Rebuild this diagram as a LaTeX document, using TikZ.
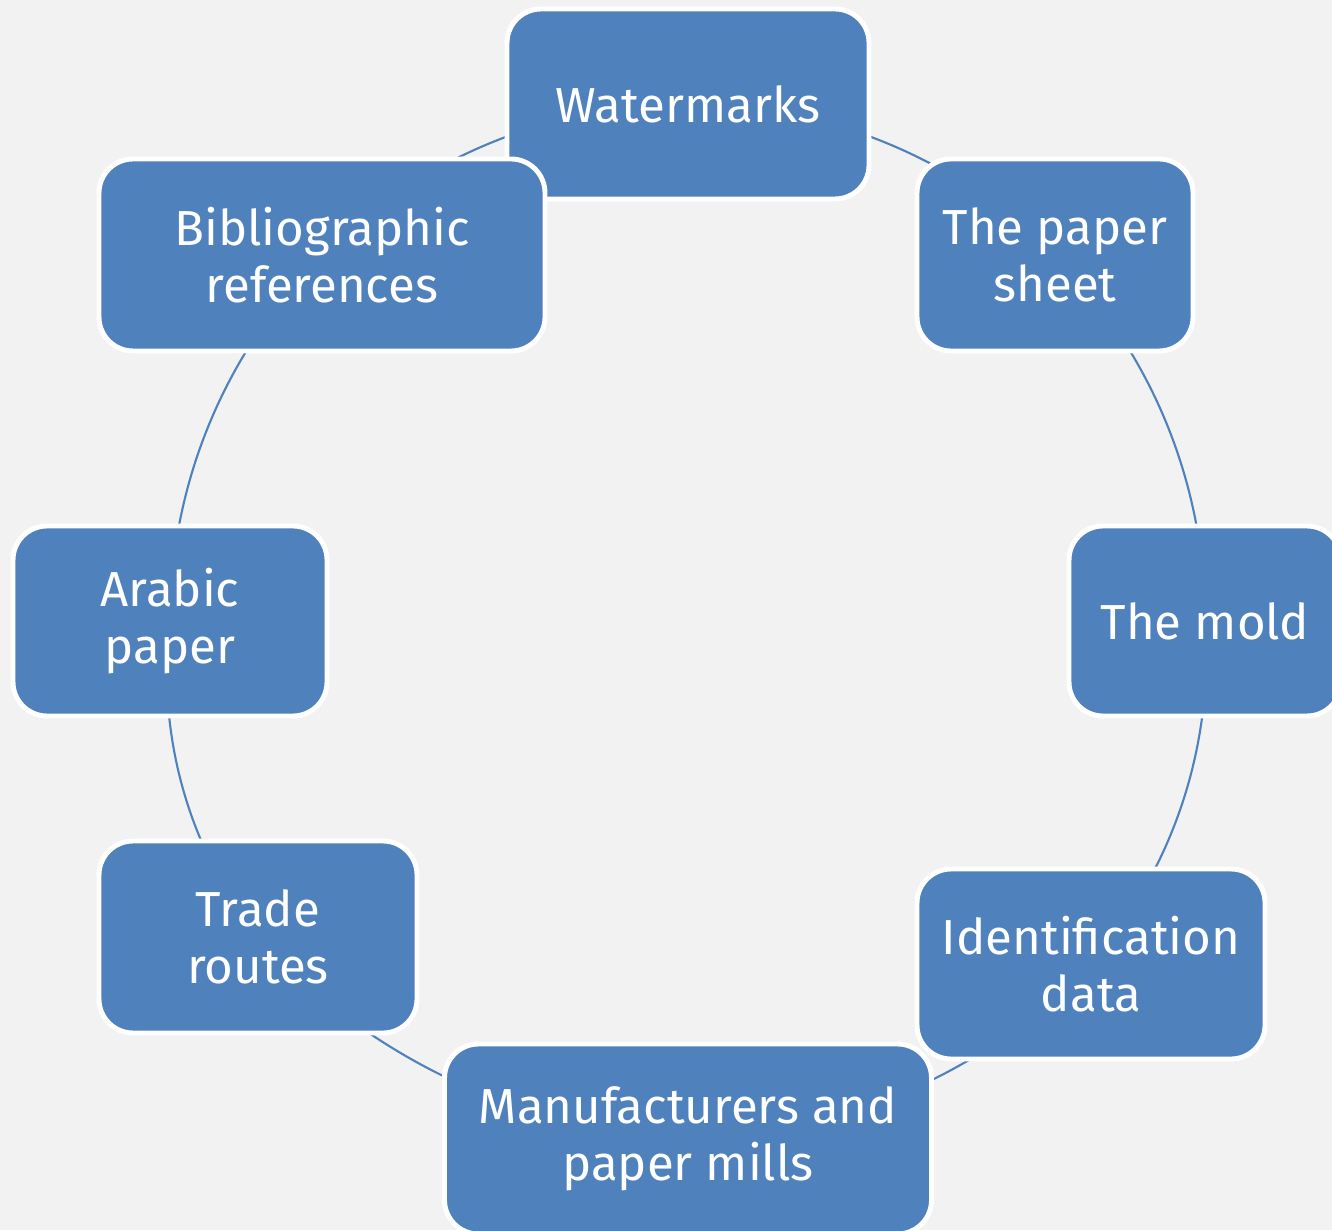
\documentclass[tikz,border=0pt]{standalone}
\usepackage{fontspec}
\setmainfont{Fira Sans}
\usetikzlibrary{backgrounds}
\definecolor{boxblue}{HTML}{4F81BD}
\definecolor{paperbg}{HTML}{F2F2F2}

\begin{document}
\begin{tikzpicture}[
    topic/.style = {shape = rectangle, rounded corners = 0.34cm, fill = boxblue, draw = white,
        line width = 1.4pt, text = white, align = center, inner sep = 2pt,
        font = \fontsize{14}{16.3}\selectfont},
    ring/.style = {draw = boxblue, line width = 0.6pt, bend left = 22.5, looseness = 0.885}]
    \useasboundingbox (0,0) rectangle (13.32,12.30);
    \node [topic, minimum width = 3.62cm, minimum height = 1.90cm] (wm) at (6.88,11.26) {Watermarks};
    \node [topic, minimum width = 2.76cm, minimum height = 1.92cm] (sheet) at (10.55,9.75) {The paper\\sheet};
    \node [topic, minimum width = 2.72cm, minimum height = 1.90cm] (mold) at (12.05,6.09) {The mold};
    \node [topic, minimum width = 3.48cm, minimum height = 1.90cm] (ident) at (10.91,2.66) {Identification\\data};
    \node [topic, minimum width = 4.87cm, minimum height = 1.90cm] (mills) at (6.88,0.91) {Manufacturers and\\paper mills};
    \node [topic, minimum width = 3.18cm, minimum height = 1.92cm] (trade) at (2.58,2.93) {Trade\\routes};
    \node [topic, minimum width = 3.14cm, minimum height = 1.90cm] (arabic) at (1.70,6.09) {Arabic\\paper};
    \node [topic, minimum width = 4.46cm, minimum height = 1.92cm] (biblio) at (3.22,9.75) {Bibliographic\\references};
    % the ring runs under the boxes, from centre to centre
    \begin{scope}[on background layer]
        \fill[paperbg] (0,0) rectangle (13.32,12.30);
        \foreach \a/\b in {wm/sheet, sheet/mold, mold/ident, ident/mills,
                           mills/trade, trade/arabic, arabic/biblio, biblio/wm}
            \draw[ring] (\a.center) to (\b.center);
    \end{scope}
\end{tikzpicture}
\end{document}
